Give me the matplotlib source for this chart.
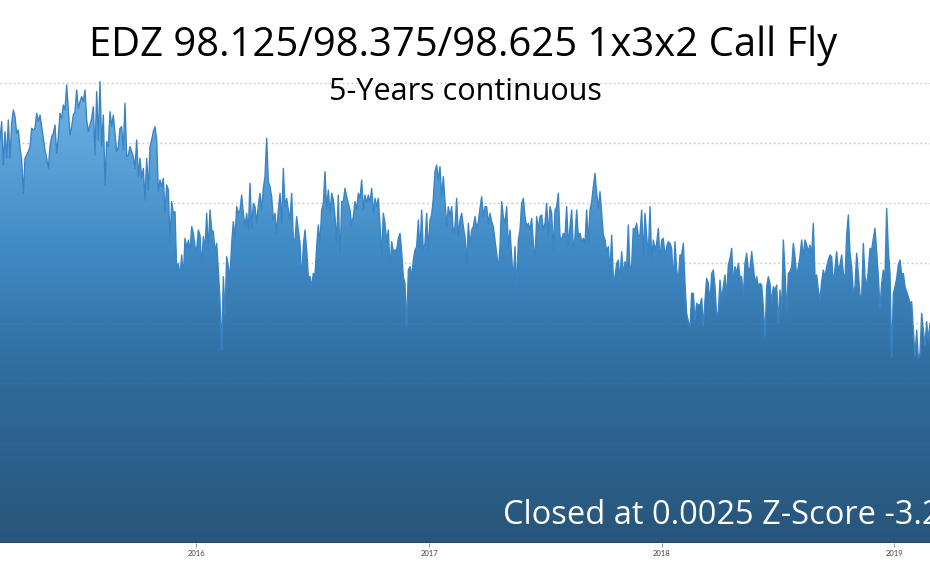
import numpy as np
import pandas as pd
import matplotlib
matplotlib.use("Agg")
import matplotlib.pyplot as plt
import matplotlib.dates as mdates
from matplotlib.colors import LinearSegmentedColormap

# ---- data (chart units; gridlines every 18 units) ----
seg_2015a = [73.0,78.5,65.5,75.5,67.5,79.0,67.5,78.0,82.0,80.0,
             75.0,76.0,70.5,67.0,57.0,67.5,68.5,69.5,71.0,76.5,
             76.0,76.5,81.0,78.5,80.5,77.0,73.5,70.0,67.5,64.5,
             71.0,74.0,75.0,77.5,69.0,74.0,81.0,79.5,83.5,82.0,
             89.5,82.0,74.5,77.0,80.5,81.5,88.0,82.5,84.5,86.0,
             84.5,88.0,79.0,75.5,77.5,79.5,83.0,68.5,87.5,73.0,
             90.5,71.0,80.5,59.5,72.5,71.0,81.5,77.0,80.5,75.0,
             69.5,71.0,76.5,77.0,70.0,84.0,68.0,68.5,71.0,69.5,
             68.0,64.5,73.0,62.0,67.5,61.5,64.5,55.0,67.5,58.0,
             71.0,73.0,75.5]
seg_2015b = [77.0,73.0,57.5,61.0,59.0,61.5,51.0,59.5,58.0,42.5,
             54.5,51.0,51.5,34.0,36.0,32.0,38.5,32.0,43.5,40.5,
             43.0,39.5,47.0,45.0,41.0,40.0,46.0,44.5,35.0,44.0,
             40.0,51.0,40.0,52.0,46.0,45.5,39.5,42.0,34.0,25.0,
             10.0,32.0,21.0,38.0,35.0,32.0,42.0,48.5,43.5,53.0,
             51.0,52.0,56.5,51.0,47.0,51.0,46.0,60.0,46.5,54.0,
             53.0,48.0,53.5,57.0,52.0,58.5,62.0,73.5,60.5,59.0,
             56.0,49.0,51.0,45.0,52.0,57.0,48.0,64.5,53.0,55.5,
             52.0,49.0,57.0,43.0,43.0,50.0,46.0,42.0,30.5,41.5,
             46.0,40.0,32.0]
seg_2016 = [32.0,29.0,33.0,32.5,41.0,47.5,42.0,52.0,54.0,63.5,
            52.0,58.0,51.0,57.0,55.0,50.0,42.5,56.5,36.0,54.5,
            54.5,58.5,56.0,54.0,52.0,47.5,50.0,54.5,52.0,57.0,
            55.5,61.0,52.0,56.5,54.0,56.5,54.0,58.5,51.0,55.5,
            53.0,55.5,47.5,38.0,51.0,48.0,42.5,46.0,34.0,42.5,
            39.5,40.0,40.0,43.5,45.0,39.5,32.0,30.0,17.0,34.0,
            35.0,32.0,37.0,40.0,41.0,49.0,39.5,52.0,39.5,42.0,
            51.0,39.5,49.0,50.5,55.5,63.5,65.5,61.0,65.0,56.0,
            62.0,54.5,47.0,53.0,50.0,53.0,45.0,47.0,55.5,44.0,
            49.0,51.0,47.0]
seg_2017 = [44.0,36.0,48.0,41.5,46.0,47.0,50.0,46.5,48.5,52.5,
            56.0,50.0,53.0,53.0,48.0,51.0,48.5,47.0,43.0,39.0,
            34.0,41.0,54.5,50.0,48.0,53.0,41.0,46.0,38.0,31.0,
            41.0,28.0,43.0,46.0,54.0,55.5,50.0,47.0,48.0,46.0,
            49.5,42.0,37.0,50.0,46.0,50.0,50.5,46.0,48.0,54.0,
            44.0,53.0,51.0,40.0,52.0,53.0,57.0,44.0,43.0,45.0,
            44.0,53.0,41.0,47.0,52.0,40.0,44.0,52.0,44.0,45.0,
            42.5,43.5,42.0,52.0,42.0,52.0,54.5,59.0,63.0,57.0,
            52.5,57.5,51.0,44.5,43.0,39.5,41.0,33.5,44.5,31.5,
            32.0,36.0,37.0]
seg_2018 = [31.0,39.5,32.5,36.5,35.0,47.5,33.0,36.0,46.5,46.0,
            48.0,44.0,44.5,52.0,38.0,51.0,44.0,38.5,53.0,37.0,
            43.0,40.0,42.0,46.5,37.0,43.0,43.5,38.0,41.0,42.5,
            42.0,40.5,30.0,42.5,34.0,31.0,38.5,38.5,42.0,30.0,
            21.0,18.5,17.0,27.0,27.0,19.0,24.0,23.5,23.5,25.5,
            17.0,25.0,31.5,30.0,24.0,33.0,34.0,29.0,20.5,21.5,
            31.0,25.0,29.0,32.5,26.0,35.5,37.5,40.5,30.0,35.0,
            33.0,36.0,32.0,32.0,26.0,36.0,39.0,34.0,34.5,39.5,
            35.0,30.0,32.0,29.0,30.0,29.5,23.0,14.0,29.0,32.0,
            30.0,24.0,29.0]
seg_2019 = [28.0,29.5,18.0,28.0,22.0,43.0,34.0,21.0,33.0,33.5,
            35.0,42.0,38.0,32.0,35.0,38.0,43.0,38.0,43.0,41.5,
            39.5,41.5,38.5,48.0,32.0,32.5,28.0,25.0,30.5,34.0,
            32.0,35.0,37.0,38.5,38.0,29.5,34.5,39.5,34.0,35.5,
            38.5,33.0,31.0,44.5,50.5,39.0,35.0,27.0,29.0,39.0,
            33.0,26.5,26.0,42.0,32.0,29.0,34.0,40.5,40.0,43.5,
            46.5,39.5,32.0,22.5,30.0,34.0,32.0,52.5,40.0,33.0,
            8.0,27.0,29.0,31.5,35.5,37.0,32.5,33.0,29.0,27.5,
            26.0,24.0,24.5,16.0,8.0,16.0,7.5,9.0,21.0,16.0,
            11.5,18.5,13.0,18.0]
values = np.array(seg_2015a + seg_2015b + seg_2016 + seg_2017 + seg_2018 + seg_2019)
dates = pd.date_range("2015-02-27", "2019-02-26", periods=len(values))

title = "EDZ 98.125/98.375/98.625 1x3x2 Call Fly"
subtitle = "5-Years continuous"
note = "Closed at 0.0025 Z-Score -3.2"
year_ticks = ["2016", "2017", "2018", "2019"]
grid_levels = [-36, -18, 0, 18, 36, 54, 72, 90]

# ---- figure ----
W, H = 930, 562
fig = plt.figure(figsize=(W / 100, H / 100), dpi=100)
ax = fig.add_axes([0, 19 / H, 1, 1 - 19 / H])
ymin, ymax = -47.9, 115.0
x = mdates.date2num(dates)
ax.set_xlim(x[0], x[-1])
ax.set_ylim(ymin, ymax)

# grid below
for g in grid_levels:
    ax.axhline(g, color="#c4c4c4", lw=1.0, ls=(0, (1.2, 2.0)), zorder=0)

# gradient area
poly = ax.fill_between(x, ymin, values, facecolor="none", edgecolor="none", zorder=1)
cmap = LinearSegmentedColormap.from_list(
    "g", [(0.0, "#28557a"), (0.35, "#2f6b9c"), (0.62, "#3f89c4"), (1.0, "#70b6e8")])
grad = np.linspace(0, 1, 256).reshape(-1, 1)
im = ax.imshow(grad, extent=[x[0], x[-1], ymin, 92], origin="lower",
               aspect="auto", cmap=cmap, zorder=1, interpolation="bicubic")
im.set_clip_path(poly.get_paths()[0], transform=ax.transData)
ax.plot(x, values, color="#3a84c4", lw=1.0, zorder=2)

# very faint grid over fill
for g in grid_levels:
    ax.axhline(g, color="#ffffff", alpha=0.05, lw=1.0, ls=(0, (1.2, 2.0)), zorder=3)

ax.axhline(ymin, color="#1f4868", lw=1.5, zorder=4)

# axes styling
for s in ax.spines.values():
    s.set_visible(False)
ax.set_yticks([])
tick_pos = [mdates.date2num(pd.Timestamp(f"{y}-01-01")) for y in year_ticks]
ax.set_xticks(tick_pos)
ax.set_xticklabels(year_ticks, fontsize=5.5, color="#444444", family="Lato")
ax.tick_params(axis="x", length=3, width=0.6, color="#888888", pad=2)
ax.patch.set_alpha(0)

# texts
fig.text(463 / W, 1 - 46 / H, title, ha="center", va="center",
         fontsize=28.8, color="#000000", family="Open Sans")
fig.text(465 / W, 1 - 92 / H, subtitle, ha="center", va="center",
         fontsize=22, color="#000000", family="Open Sans")
ax.text(503 / W, (562 - 516 - 19) / (H - 19), note, transform=ax.transAxes,
        ha="left", va="center", fontsize=23.5, color="#ffffff", family="Open Sans", zorder=6)

fig.savefig("out.png", dpi=100)
